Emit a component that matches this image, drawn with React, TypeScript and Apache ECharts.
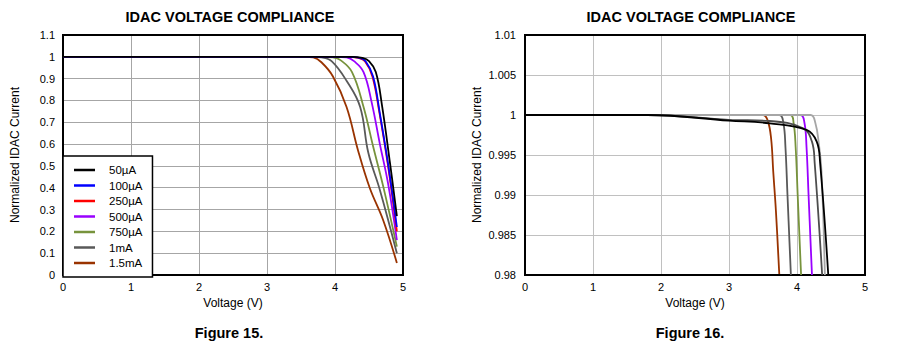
import React, { useEffect, useRef } from "react";
import * as echarts from "echarts";

const FONT = "'Liberation Sans', Arial, Helvetica, sans-serif";

// Legend / series names and colours
const CURRENT_NAMES = ["50µA", "100µA", "250µA", "500µA", "750µA", "1mA", "1.5mA"];
const CURRENT_COLORS = ["#000000", "#0000ff", "#ff0000", "#9900ff", "#77933c", "#595959", "#993300"];

// Figure 15: [voltage (V), normalized IDAC current]
const f15_50uA = [[0, 1], [4.25, 1], [4.4, 0.995], [4.5, 0.98], [4.6, 0.93], [4.69, 0.78], [4.81, 0.51], [4.91, 0.27]];
const f15_100uA = [[0, 1], [4.2, 1], [4.36, 0.995], [4.45, 0.98], [4.56, 0.91], [4.66, 0.74], [4.78, 0.51], [4.91, 0.22]];
const f15_250uA = [[0, 1], [4.18, 1], [4.34, 0.995], [4.44, 0.98], [4.55, 0.91], [4.65, 0.75], [4.78, 0.5], [4.91, 0.2]];
const f15_500uA = [[0, 1], [4.0, 1], [4.17, 0.997], [4.28, 0.98], [4.42, 0.93], [4.54, 0.79], [4.66, 0.6], [4.78, 0.42], [4.91, 0.16]];
const f15_750uA = [[0, 1], [3.8, 1], [3.97, 0.997], [4.08, 0.985], [4.25, 0.93], [4.42, 0.77], [4.56, 0.59], [4.71, 0.405], [4.91, 0.13]];
const f15_1mA = [[0, 1], [3.65, 1], [3.8, 0.997], [3.95, 0.98], [4.17, 0.89], [4.37, 0.77], [4.49, 0.56], [4.66, 0.39], [4.91, 0.1]];
const f15_1_5mA = [[0, 1], [3.55, 1], [3.68, 0.997], [3.8, 0.975], [3.97, 0.91], [4.17, 0.77], [4.34, 0.57], [4.51, 0.4], [4.71, 0.25], [4.91, 0.055]];

// Figure 16: [voltage (V), normalized IDAC current]
const f16_50uA = [[0, 1], [1.8, 1], [3.0, 0.9993], [3.6, 0.99896], [4.14, 0.99813], [4.29, 0.99667], [4.34, 0.994], [4.46, 0.98]];
const f16_100uA = [[0, 1], [1.8, 1], [3.0, 0.9994], [3.6, 0.99925], [4.09, 0.99834], [4.22, 0.99667], [4.26, 0.994], [4.37, 0.98]];
const f16_250uA = [[0, 1], [4.2, 1], [4.27, 0.999], [4.32, 0.9965], [4.36, 0.993], [4.41, 0.98]];
const f16_500uA = [[0, 1], [4.05, 1], [4.11, 0.999], [4.14, 0.996], [4.17, 0.99], [4.22, 0.98]];
const f16_750uA = [[0, 1], [3.9, 1], [3.95, 0.999], [3.98, 0.996], [4.01, 0.99], [4.06, 0.98]];
const f16_1mA = [[0, 1], [3.74, 1], [3.8, 0.999], [3.83, 0.996], [3.86, 0.99], [3.91, 0.98]];
const f16_1_5mA = [[0, 1], [3.5, 1], [3.57, 0.9993], [3.62, 0.997], [3.65, 0.993], [3.69, 0.988], [3.74, 0.98]];
const F16_COLORS = ["#000000", "#4d4d4d", "#a6a6a6", "#9900ff", "#77933c", "#595959", "#993300"];

const F15 = [f15_50uA, f15_100uA, f15_250uA, f15_500uA, f15_750uA, f15_1mA, f15_1_5mA];
const F16 = [f16_50uA, f16_100uA, f16_250uA, f16_500uA, f16_750uA, f16_1mA, f16_1_5mA];

const TITLE = "IDAC VOLTAGE COMPLIANCE";
const X_NAME = "Voltage (V)";
const Y_NAME = "Normalized IDAC Current";

const fmt = (d: number) => (v: number) => String(parseFloat(v.toFixed(d)));

export default function App() {
  const ref = useRef<HTMLDivElement>(null);
  useEffect(() => {
    if (!ref.current) return;
    const chart = echarts.init(ref.current, undefined, { renderer: "svg" });
    const axisLabel = { color: "#000", fontSize: 11, fontFamily: FONT };
    const nameStyle = { color: "#000", fontSize: 12, fontFamily: FONT };
    const xAxisBase = (gridIndex: number, split: string) => ({
      type: "value",
      gridIndex,
      min: 0,
      max: 5,
      interval: 1,
      name: X_NAME,
      nameLocation: "middle",
      nameGap: 22,
      nameTextStyle: nameStyle,
      axisLine: { show: false },
      axisTick: { show: false },
      axisLabel: { ...axisLabel, margin: 6 },
      splitLine: { show: true, lineStyle: { color: split, width: 1 } },
    });
    const series: any[] = [];
    F15.forEach((d, i) =>
      series.push({
        type: "line",
        name: CURRENT_NAMES[i],
        xAxisIndex: 0,
        yAxisIndex: 0,
        data: d,
        smooth: 0.4,
        showSymbol: false,
        symbol: "none",
        color: CURRENT_COLORS[i],
        lineStyle: { width: 1.8, color: CURRENT_COLORS[i] },
        z: 10 - i,
      })
    );
    F16.forEach((d, i) =>
      series.push({
        type: "line",
        name: "Fig16 " + CURRENT_NAMES[i],
        xAxisIndex: 1,
        yAxisIndex: 1,
        data: d,
        smooth: 0.4,
        showSymbol: false,
        symbol: "none",
        color: F16_COLORS[i],
        lineStyle: { width: 1.8, color: F16_COLORS[i] },
        z: 10 - i,
      })
    );
    chart.setOption({
      animation: false,
      backgroundColor: "#fff",
      textStyle: { fontFamily: FONT },
      title: [
        { text: TITLE, left: 225, top: 4, textAlign: "center", textStyle: { fontFamily: FONT, fontSize: 14.5, fontWeight: "bold", color: "#000" } },
        { text: TITLE, left: 686, top: 4, textAlign: "center", textStyle: { fontFamily: FONT, fontSize: 14.5, fontWeight: "bold", color: "#000" } },
        { text: "Figure 15.", left: 224, top: 320, textAlign: "center", textStyle: { fontFamily: FONT, fontSize: 14.5, fontWeight: "bold", color: "#000" } },
        { text: "Figure 16.", left: 685, top: 320, textAlign: "center", textStyle: { fontFamily: FONT, fontSize: 14.5, fontWeight: "bold", color: "#000" } },
      ],
      grid: [
        { left: 63, top: 35, width: 340, height: 240, show: true, borderColor: "#000", borderWidth: 2, backgroundColor: "transparent", z: 5 },
        { left: 525, top: 35, width: 340, height: 240, show: true, borderColor: "#000", borderWidth: 2, backgroundColor: "transparent", z: 5 },
      ],
      xAxis: [xAxisBase(0, "#a6a6a6"), xAxisBase(1, "#c0c0c0")],
      yAxis: [
        {
          type: "value",
          gridIndex: 0,
          min: 0,
          max: 1.1,
          interval: 0.1,
          name: Y_NAME,
          nameLocation: "middle",
          nameGap: 42,
          nameTextStyle: nameStyle,
          axisLine: { show: false },
          axisTick: { show: false },
          axisLabel: { ...axisLabel, margin: 8, formatter: fmt(2) },
          splitLine: { show: true, lineStyle: { color: "#a6a6a6", width: 1 } },
        },
        {
          type: "value",
          gridIndex: 1,
          min: 0.98,
          max: 1.01,
          interval: 0.005,
          name: Y_NAME,
          nameLocation: "middle",
          nameGap: 42,
          nameTextStyle: nameStyle,
          axisLine: { show: false },
          axisTick: { show: false },
          axisLabel: { ...axisLabel, margin: 9, formatter: fmt(3) },
          splitLine: { show: true, lineStyle: { color: "#c0c0c0", width: 1 } },
        },
      ],
      legend: {
        data: CURRENT_NAMES,
        orient: "vertical",
        left: 63,
        top: 156,
        itemWidth: 21,
        itemHeight: 2.5,
        itemGap: 3.5,
        icon: "rect",
        padding: [8, 10, 8, 11],
        backgroundColor: "#fff",
        borderColor: "#000",
        borderWidth: 1.5,
        z: 6,
        formatter: (n: string) => `{t|${n}}`,
        textStyle: {
          color: "#000",
          fontFamily: FONT,
          fontSize: 11.5,
          rich: { t: { fontFamily: FONT, fontSize: 11.5, color: "#000", padding: [0, 0, 0, 9] } },
        },
      },
      series,
    });
    return () => chart.dispose();
  }, []);
  return <div ref={ref} style={{ position: "fixed", left: 0, top: 0, width: 899, height: 352 }} />;
}
